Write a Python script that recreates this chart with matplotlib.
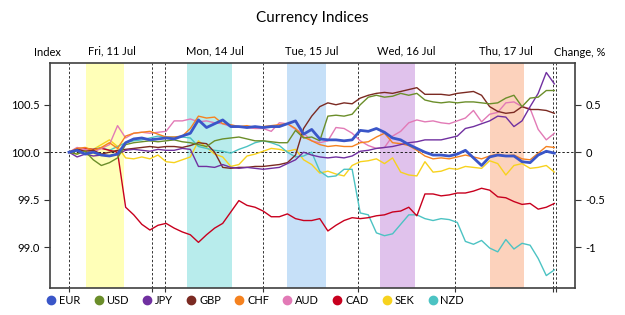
import numpy as np
import matplotlib
matplotlib.use("Agg")
import matplotlib.pyplot as plt
from matplotlib.lines import Line2D

plt.rcParams['font.family'] = ['Lato', 'DejaVu Sans']

# Time axis: hours since Friday open, one sample every 2 hours
hours = np.arange(61) * 2

# Change in % from the starting level
eur = [0.00, 0.02, -0.02, 0.00, -0.03, -0.04, -0.02, 0.10, 0.14, 0.15,
       0.13, 0.14, 0.15, 0.14, 0.17, 0.20, 0.34, 0.26, 0.30, 0.34,
       0.27, 0.27, 0.26, 0.27, 0.26, 0.27, 0.27, 0.30, 0.33, 0.19,
       0.24, 0.14, 0.13, 0.13, 0.12, 0.13, 0.23, 0.22, 0.25, 0.21,
       0.15, 0.13, 0.08, 0.04, 0.00, -0.03, -0.03, -0.04, -0.02, 0.02,
       -0.06, -0.14, -0.05, -0.03, -0.04, -0.04, -0.10, -0.11, -0.03, 0.01,
       -0.01]
usd = [0.00, -0.02, 0.01, -0.08, -0.14, -0.11, -0.06, 0.08, 0.10, 0.11,
       0.12, 0.11, 0.12, 0.13, 0.11, 0.10, 0.08, 0.06, 0.12, 0.14,
       0.15, 0.16, 0.14, 0.12, 0.12, 0.11, 0.10, 0.10, 0.23, 0.15,
       0.16, 0.12, 0.38, 0.39, 0.38, 0.40, 0.50, 0.58, 0.60, 0.58,
       0.59, 0.62, 0.60, 0.62, 0.55, 0.53, 0.52, 0.53, 0.52, 0.53,
       0.53, 0.52, 0.51, 0.52, 0.57, 0.60, 0.48, 0.57, 0.58, 0.65,
       0.65]
jpy = [0.00, -0.05, -0.02, -0.04, -0.03, -0.04, -0.02, 0.02, 0.03, 0.02,
       0.01, 0.03, 0.02, 0.02, 0.04, 0.03, -0.15, -0.15, -0.16, -0.13,
       -0.16, -0.17, -0.16, -0.17, -0.18, -0.17, -0.16, -0.12, -0.08, 0.00,
       -0.03, -0.05, -0.06, -0.05, -0.06, -0.04, 0.01, 0.02, 0.04, 0.05,
       0.06, 0.08, 0.10, 0.11, 0.13, 0.13, 0.13, 0.15, 0.17, 0.25,
       0.27, 0.30, 0.33, 0.38, 0.37, 0.27, 0.33, 0.48, 0.62, 0.84,
       0.72]
gbp = [0.00, 0.03, 0.01, 0.02, -0.02, 0.00, 0.02, 0.03, 0.04, 0.05,
       0.06, 0.05, 0.06, 0.06, 0.05, 0.07, 0.10, 0.09, 0.00, -0.16,
       -0.17, -0.16, -0.16, -0.15, -0.15, -0.14, -0.13, -0.11, -0.03, 0.25,
       0.38, 0.48, 0.52, 0.50, 0.52, 0.51, 0.57, 0.60, 0.62, 0.63,
       0.62, 0.64, 0.66, 0.68, 0.61, 0.61, 0.61, 0.60, 0.62, 0.63,
       0.64, 0.60, 0.48, 0.43, 0.41, 0.42, 0.48, 0.45, 0.45, 0.44,
       0.41]
chf = [0.00, 0.04, 0.05, 0.02, 0.05, 0.10, 0.04, 0.17, 0.20, 0.21,
       0.22, 0.19, 0.16, 0.16, 0.17, 0.25, 0.38, 0.36, 0.37, 0.30,
       0.29, 0.27, 0.28, 0.26, 0.27, 0.28, 0.29, 0.30, 0.25, 0.16,
       0.12, 0.08, 0.06, 0.07, 0.06, 0.06, 0.10, 0.11, 0.16, 0.20,
       0.10, 0.09, 0.07, 0.02, -0.04, -0.07, -0.06, -0.07, -0.05, -0.03,
       -0.05, -0.07, -0.04, -0.02, -0.04, -0.03, -0.07, -0.08, -0.01, 0.06,
       0.05]
aud = [0.00, 0.05, 0.03, 0.00, 0.04, 0.08, 0.28, 0.15, 0.20, 0.21,
       0.20, 0.21, 0.22, 0.33, 0.33, 0.35, 0.32, 0.33, 0.31, 0.30,
       0.27, 0.27, 0.26, 0.25, 0.25, 0.22, 0.31, 0.30, 0.24, 0.20,
       0.12, 0.10, 0.12, 0.26, 0.25, 0.20, 0.12, 0.07, 0.04, 0.05,
       0.17, 0.22, 0.31, 0.34, 0.32, 0.33, 0.31, 0.30, 0.33, 0.36,
       0.44, 0.32, 0.40, 0.42, 0.52, 0.53, 0.48, 0.46, 0.24, 0.13,
       0.20]
cad = [0.00, 0.03, 0.04, 0.03, 0.04, 0.02, 0.00, -0.58, -0.66, -0.76,
       -0.82, -0.77, -0.75, -0.80, -0.84, -0.87, -0.95, -0.87, -0.80, -0.75,
       -0.63, -0.51, -0.56, -0.58, -0.62, -0.68, -0.68, -0.65, -0.70, -0.72,
       -0.72, -0.70, -0.83, -0.77, -0.72, -0.69, -0.70, -0.69, -0.67, -0.66,
       -0.63, -0.62, -0.58, -0.67, -0.44, -0.44, -0.46, -0.45, -0.43, -0.43,
       -0.41, -0.38, -0.40, -0.47, -0.48, -0.52, -0.55, -0.54, -0.60, -0.58,
       -0.54]
sek = [0.00, -0.02, 0.02, 0.03, 0.08, 0.13, 0.06, -0.06, -0.07, -0.05,
       -0.07, -0.03, -0.10, -0.11, -0.08, -0.05, 0.12, 0.05, -0.02, -0.05,
       -0.15, -0.13, -0.04, -0.02, 0.01, 0.04, 0.03, 0.01, 0.03, -0.08,
       -0.13, -0.22, -0.20, -0.23, -0.25, -0.14, -0.10, -0.09, -0.07, -0.12,
       -0.06, -0.21, -0.24, -0.25, -0.10, -0.21, -0.20, -0.17, -0.18, -0.15,
       -0.16, -0.17, -0.09, -0.12, -0.24, -0.14, -0.12, -0.17, -0.16, -0.14,
       -0.21]
nzd = [0.00, 0.02, -0.02, 0.03, 0.05, 0.02, 0.06, 0.10, 0.12, 0.13,
       0.15, 0.17, 0.16, 0.16, 0.16, 0.15, 0.06, 0.04, 0.02, 0.01,
       -0.01, 0.03, 0.06, 0.10, 0.12, 0.10, 0.07, 0.00, -0.05, -0.04,
       0.00, -0.20, -0.26, -0.25, -0.18, -0.18, -0.64, -0.66, -0.85, -0.88,
       -0.86, -0.76, -0.66, -0.66, -0.70, -0.72, -0.70, -0.71, -0.74, -0.94,
       -0.97, -0.93, -1.01, -1.05, -0.92, -1.02, -0.96, -0.98, -1.12, -1.30,
       -1.24]

names = ['EUR', 'USD', 'JPY', 'GBP', 'CHF', 'AUD', 'CAD', 'SEK', 'NZD']
series = [eur, usd, jpy, gbp, chf, aud, cad, sek, nzd]
colors = ['#3a56c8', '#6b8e2a', '#7030a0', '#7b2a22', '#f5821f',
          '#e27ab6', '#c8001e', '#f7d21e', '#4cc3c3']

day_labels = ['Fri, 11 Jul', 'Mon, 14 Jul', 'Tue, 15 Jul', 'Wed, 16 Jul', 'Thu, 17 Jul']
day_centers = [10.6, 36.1, 60.1, 83.3, 108.0]
day_edges = [0, 20.5, 23.7, 48.0, 71.4, 95.4, 119.7, 120.4]
bands = [(4.2, 13.6), (29.2, 40.3), (53.9, 63.5), (76.9, 85.5), (104.1, 112.5)]
band_colors = ['#ffffb8', '#b8ecec', '#c6e0f8', '#e0c2ec', '#fcd2bc']

fig = plt.figure(figsize=(6.25, 3.15), dpi=100)
ax = fig.add_axes([0.08, 0.086, 0.84, 0.714])

for (a, b), c in zip(bands, band_colors):
    ax.axvspan(a, b, color=c, lw=0, zorder=0)
for e in day_edges:
    ax.axvline(e, color='#333333', lw=0.7, ls=(0, (2.5, 2)), zorder=1)
ax.axhline(100.0, color='#222222', lw=0.7, ls=(0, (2.5, 2)), zorder=1)

order = [7, 8, 6, 5, 4, 3, 2, 1, 0]
for k in order:
    vals = 100 + np.array(series[k])
    ax.plot(hours, vals, color=colors[k], lw=2.0 if k == 0 else 1.0, zorder=3 + (k == 0))

ax.set_xlim(-4.7, 125.1)
ax.set_ylim(98.57, 100.94)
ax.set_yticks([99.0, 99.5, 100.0, 100.5])
ax.set_yticklabels(['99.0', '99.5', '100.0', '100.5'])
ax.set_xticks(day_edges)
ax.set_xticklabels([])
ax.tick_params(axis='x', length=3, color='#333333')
ax.tick_params(axis='y', labelsize=8, length=4, color='#333333')
for s in ax.spines.values():
    s.set_color('#404040')
    s.set_linewidth(1.2)

ax2 = ax.twinx()
ax2.set_ylim(98.57 - 100, 100.94 - 100)
ax2.set_yticks([-1, -0.5, 0, 0.5])
ax2.set_yticklabels(['-1', '-0.5', '0', '0.5'])
ax2.tick_params(axis='y', labelsize=8, length=4, color='#333333')
for s in ax2.spines.values():
    s.set_visible(False)

for lbl, c in zip(day_labels, day_centers):
    ax.text(c, 1.03, lbl, transform=ax.get_xaxis_transform(), ha='center', va='bottom', fontsize=8)
fig.text(47 / 625, 1 - 52 / 315, 'Index', ha='center', va='center', fontsize=8)
fig.text(580 / 625, 1 - 52 / 315, 'Change, %', ha='center', va='center', fontsize=8)
fig.text(0.5, 1 - 18 / 315, 'Currency Indices', ha='center', va='center', fontsize=11)

handles = [Line2D([], [], ls='', marker='o', ms=6, color=c) for c in colors]
fig.legend(handles, names, loc='center left', bbox_to_anchor=(0.057, 1 - 300 / 315), ncol=9,
           frameon=False, fontsize=8, handletextpad=0.2, columnspacing=1.15, handlelength=1.0)

fig.savefig('out.png', dpi=100)
